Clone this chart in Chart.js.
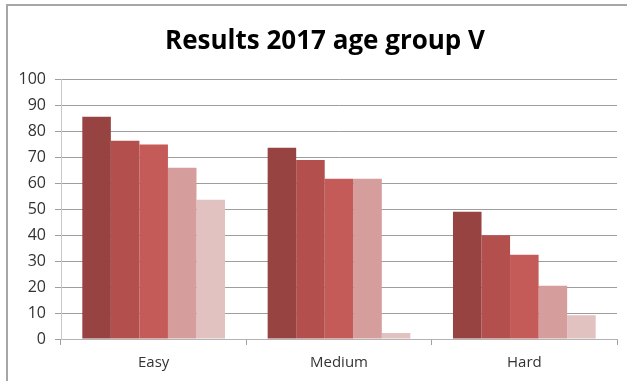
<!DOCTYPE html>
<html lang="en">
<head>
    <meta charset="UTF-8">
    <title>Results 2017 age group V</title>
    <script src="https://cdn.jsdelivr.net/npm/chart.js"></script>
    <style>
        body { margin: 0; background: #fff; }
        #wrap { position: relative; width: 627px; height: 381px; overflow: hidden; }
        #frame { position: absolute; left: 6px; top: 4px; width: 700px; height: 500px;
                 border-top: 2px solid #a6a6a6; border-left: 2px solid #a6a6a6; }
        canvas { position: absolute; left: 0; top: 0; }
    </style>
</head>
<body>
    <div id="wrap">
        <div id="frame"></div>
        <canvas id="chart" width="627" height="381"></canvas>
    </div>

    <script>
        const categories = ['Easy', 'Medium', 'Hard'];
        // five series, no legend shown in the original
        const series1 = [85.5, 73.6, 49.0];
        const series2 = [76.3, 68.9, 39.9];
        const series3 = [74.9, 61.7, 32.4];
        const series4 = [65.9, 61.7, 20.5];
        const series5 = [53.6, 2.3, 9.1];
        const yTicks = [0, 10, 20, 30, 40, 50, 60, 70, 80, 90, 100];
        const titleText = 'Results 2017 age group V';

        const colors = ['#974342', '#b3504e', '#c55b58', '#d59d9c', '#e2c2c1'];
        const allSeries = [series1, series2, series3, series4, series5];

        // the built-in title only reserves the space; this draws it a bit right of centre like the original
        const titleDraw = {
            id: 'titleDraw',
            afterDraw(chart) {
                const tb = chart.titleBlock;
                const c = chart.ctx;
                c.save();
                c.font = 'bold 26px "Open Sans"';
                c.fillStyle = '#000';
                c.textAlign = 'center';
                c.textBaseline = 'middle';
                c.fillText(titleText, 325, tb.top + 26 + 15.6);
                c.restore();
            }
        };

        const ctx = document.getElementById('chart').getContext('2d');
        new Chart(ctx, {
            type: 'bar',
            data: {
                labels: categories,
                datasets: allSeries.map((s, i) => ({
                    label: 'Series ' + (i + 1),
                    data: s,
                    backgroundColor: colors[i],
                    borderWidth: 0,
                    categoryPercentage: 0.77,
                    barPercentage: 1.0
                }))
            },
            options: {
                responsive: false,
                animation: false,
                layout: { padding: { left: 0, right: 10, top: 0, bottom: 0 } },
                plugins: {
                    legend: { display: false },
                    tooltip: { enabled: false },
                    title: {
                        display: true,
                        text: titleText,
                        color: 'rgba(0,0,0,0)',
                        font: { family: 'Open Sans', size: 26, weight: 'bold' },
                        padding: { top: 26, bottom: 22 }
                    }
                },
                scales: {
                    x: {
                        grid: { display: true, drawOnChartArea: false, tickLength: 6, color: '#a0a0a0', offset: true },
                        border: { color: '#b4b4b4', width: 1 },
                        ticks: { color: '#333', font: { family: 'Open Sans', size: 15 }, padding: 9 }
                    },
                    y: {
                        min: 0,
                        max: 100,
                        afterBuildTicks: scale => { scale.ticks = yTicks.map(v => ({ value: v })); },
                        afterFit: scale => { scale.width = 61; },
                        grid: { color: '#9e9e9e', lineWidth: 1, tickLength: 6 },
                        border: { color: '#c8c8c8', width: 1 },
                        ticks: { color: '#333', font: { family: 'Open Sans', size: 16 }, padding: 9 }
                    }
                }
            },
            plugins: [titleDraw]
        });
    </script>
</body>
</html>
